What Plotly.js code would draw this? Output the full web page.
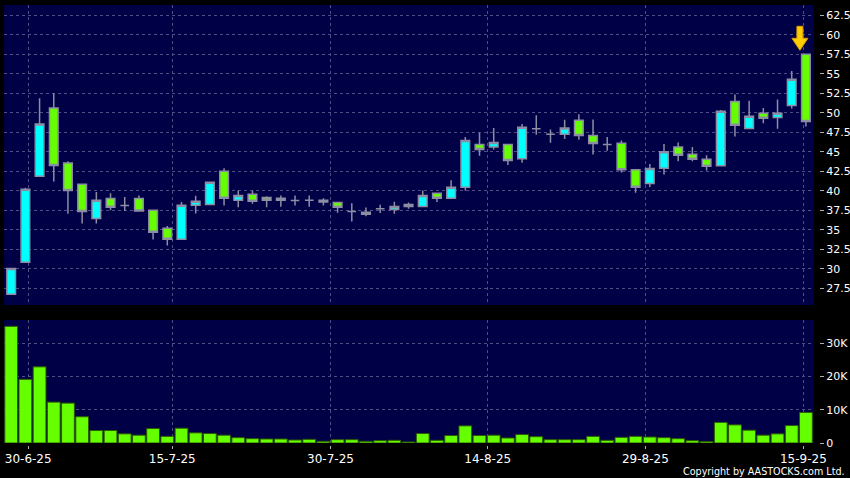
<!DOCTYPE html>
<html><head><meta charset="utf-8">
<script src="https://cdn.plot.ly/plotly-3.0.1.min.js"></script>
<style>html,body{margin:0;padding:0;background:#000;} #chart{width:850px;height:478px;}</style>
</head><body><div id="chart"></div>
<script>
const openP  = [26.75,30.85,41.85,50.6,43.55,40.85,36.45,39.0,38.1,39.0,37.5,35.2,33.8,38.15,38.25,42.5,38.8,39.55,39.15,38.8,38.75,38.8,38.8,38.5,37.35,37.0,37.7,37.6,38.0,38.0,39.7,39.05,40.45,45.95,45.6,45.95,44.1,47.95,47.25,47.25,49.05,47.1,45.95,46.1,42.7,40.95,42.9,45.6,44.7,44.05,43.2,51.45,48.0,49.95,49.4,50.95,57.5];
const highP  = [30.05,40.4,51.85,52.5,43.8,40.85,39.85,39.7,39.2,39.4,37.5,35.5,38.55,39.35,41.1,42.9,40.05,40.05,39.3,39.4,39.4,39.4,39.05,38.5,38.4,37.85,38.2,38.6,38.5,40.05,39.7,41.35,46.9,47.45,48.05,45.95,48.55,49.7,47.85,49.1,49.8,49.15,46.9,46.45,42.7,43.45,46.0,46.2,45.6,44.55,50.35,52.35,51.55,50.6,51.7,55.35,57.5];
const lowP   = [26.7,30.85,41.85,41.2,37.05,35.8,35.8,37.5,37.4,37.3,33.75,33.0,33.8,37.1,38.25,38.1,37.9,38.35,37.9,37.95,38.1,37.95,38.1,37.2,36.05,36.75,37.15,37.05,37.7,38.0,38.55,39.05,40.05,44.5,45.3,43.3,43.6,47.2,46.15,46.65,46.55,44.65,45.15,42.35,39.75,40.5,42.1,43.8,43.8,42.6,43.15,46.95,48.0,48.65,47.95,50.55,48.25];
const closeP = [30.05,40.2,48.55,43.25,40.05,37.35,38.8,37.9,38.1,37.4,34.7,33.8,38.15,38.65,41.1,39.05,39.4,38.65,38.8,39.05,38.75,38.8,38.55,37.9,37.35,37.25,37.7,38.0,38.25,39.4,39.05,40.45,46.45,45.3,46.2,43.9,48.15,47.95,47.25,48.05,47.1,46.05,45.95,42.7,40.45,42.85,45.0,44.55,44.05,43.15,50.2,48.4,49.55,49.3,49.95,54.3,48.9];
const volumeK = [35.1,19.15,22.9,12.3,12.0,7.9,3.75,3.75,2.75,2.35,4.35,2.0,4.45,3.05,2.85,2.35,1.6,1.3,1.2,1.2,0.9,1.1,0.5,1.0,1.0,0.5,0.7,0.8,0.3,2.85,0.8,2.25,5.15,2.25,2.35,1.5,2.55,1.9,1.0,1.0,1.0,2.0,0.8,1.7,2.0,1.8,1.6,1.3,0.7,0.4,6.2,5.45,3.85,2.35,2.75,5.25,9.2];
const tickPos = [1.2, 11.35, 22.5, 33.58, 44.69, 55.82];
const tickLabels = ['30-6-25','15-7-25','30-7-25','14-8-25','29-8-25','15-9-25'];
const volTickVals = [0, 10000, 20000, 30000];
const volTickText = ['0', '10K', '20K', '30K'];

const idx = openP.map((_, i) => i);
const volume = volumeK.map(v => v * 1000);
const last = idx.length - 1;

const W = 850, H = 478, L = 4;
const px = x => (x - L) / (W - L);
const py = y => 1 - y / H;

const gridColor = '#4e4e84';
const gridDash = '3px,3px';
const candleLine = '#8c8ca4';

const traces = [
  {
    type: 'candlestick', x: idx, open: openP, high: highP, low: lowP, close: closeP,
    xaxis: 'x', yaxis: 'y', whiskerwidth: 0, hoverinfo: 'skip',
    increasing: {fillcolor: '#00ffff', line: {color: candleLine, width: 1.5}},
    decreasing: {fillcolor: '#66ff00', line: {color: candleLine, width: 1.5}}
  },
  {
    type: 'bar', x: idx, y: volume, xaxis: 'x2', yaxis: 'y2', hoverinfo: 'skip',
    marker: {color: '#66ff00', line: {color: '#2d5a00', width: 1}}
  }
];

const xRange = [-0.507, 56.57];
const layout = {
  width: W, height: H,
  paper_bgcolor: '#000000', plot_bgcolor: '#000046',
  margin: {l: L, r: 0, t: 0, b: 0},
  showlegend: false, boxgap: 0.13, bargap: 0.1,
  font: {family: 'DejaVu Sans', color: '#ffffff'},
  xaxis: {
    domain: [0, px(814)], range: xRange, anchor: 'y',
    tickvals: tickPos, ticktext: tickLabels, showticklabels: false, ticks: '',
    showgrid: true, gridcolor: gridColor, griddash: gridDash, zeroline: false,
    rangeslider: {visible: false}, fixedrange: true
  },
  xaxis2: {
    domain: [0, px(814)], range: xRange, anchor: 'free', position: py(445),
    tickvals: tickPos, ticktext: tickLabels, ticks: 'outside', ticklen: 3,
    tickcolor: '#b0b0b0', tickfont: {family: 'DejaVu Sans', size: 12, color: '#ffffff'},
    showgrid: true, gridcolor: gridColor, griddash: gridDash, zeroline: false, fixedrange: true
  },
  yaxis: {
    domain: [py(305), py(5)], range: [25.36, 63.82], anchor: 'free', position: px(819), side: 'right',
    tick0: 0, dtick: 2.5, ticks: 'outside', ticklen: 4, tickcolor: '#b0b0b0',
    tickfont: {family: 'DejaVu Sans', size: 11, color: '#ffffff'},
    showgrid: true, gridcolor: gridColor, griddash: gridDash, zeroline: false, fixedrange: true
  },
  yaxis2: {
    domain: [py(443), py(320)], range: [0, 37000], anchor: 'free', position: px(819), side: 'right',
    tickvals: volTickVals, ticktext: volTickText, ticks: 'outside', ticklen: 4, tickcolor: '#b0b0b0',
    tickfont: {family: 'DejaVu Sans', size: 11, color: '#ffffff'},
    showgrid: true, gridcolor: gridColor, griddash: gridDash, zeroline: false, fixedrange: true
  },
  shapes: [{
    type: 'path', xref: 'x', yref: 'y', xsizemode: 'pixel', ysizemode: 'pixel',
    xanchor: last, yanchor: highP[last],
    path: 'M-6,4L-14,16L-9,16L-9,28L-3,28L-3,16L2,16Z',
    fillcolor: '#ffcc00', line: {color: '#d99a00', width: 1}
  }],
  annotations: [{
    xref: 'paper', yref: 'paper', x: px(847), y: py(471), xanchor: 'right', yanchor: 'middle',
    text: 'Copyright by AASTOCKS.com Ltd.', showarrow: false,
    font: {family: 'DejaVu Sans', size: 9.6, color: '#ffffff'}
  }]
};

Plotly.newPlot('chart', traces, layout, {staticPlot: true, displayModeBar: false});
</script></body></html>
